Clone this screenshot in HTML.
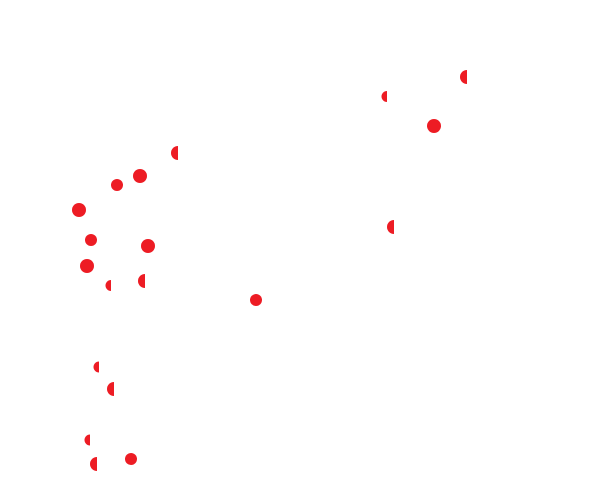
<!DOCTYPE html>
<html><head><style>html,body{margin:0;padding:0;background:#fff;}svg{display:block}</style></head>
<body>
<svg width="600" height="501" viewBox="0 0 600 501" xmlns="http://www.w3.org/2000/svg">
<g fill="#ed1c24" transform="translate(0,1)">
<circle cx="140" cy="175" r="7"/>
<circle cx="117" cy="184" r="6"/>
<circle cx="79" cy="209" r="7"/>
<circle cx="91" cy="239" r="6"/>
<circle cx="148" cy="245" r="7"/>
<circle cx="87" cy="265" r="7"/>
<circle cx="256" cy="299" r="6"/>
<circle cx="434" cy="125" r="7"/>
<circle cx="131" cy="458" r="6"/>
<path d="M178,145 A7,7 0 0 0 178,159 Z"/>
<path d="M387,90 A5.5,5.5 0 0 0 387,101 Z"/>
<path d="M467,69 A7,7 0 0 0 467,83 Z"/>
<path d="M394,219 A7,7 0 0 0 394,233 Z"/>
<path d="M111,279 A5.5,5.5 0 0 0 111,290 Z"/>
<path d="M145,273 A7,7 0 0 0 145,287 Z"/>
<path d="M99,360.5 A5.5,5.5 0 0 0 99,371.5 Z"/>
<path d="M114,381 A7,7 0 0 0 114,395 Z"/>
<path d="M90,433.5 A5.5,5.5 0 0 0 90,444.5 Z"/>
<path d="M97,456 A7,7 0 0 0 97,470 Z"/>
</g>
</svg>
</body></html>
